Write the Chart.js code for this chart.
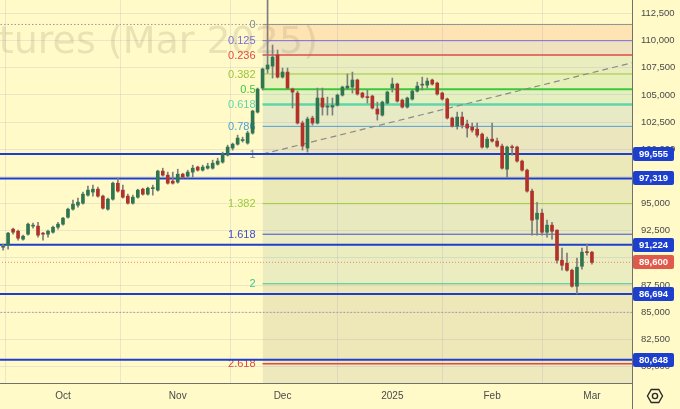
<!DOCTYPE html>
<html>
<head>
<meta charset="utf-8">
<title>Bitcoin CME Futures (Mar 2025)</title>
<script src="https://cdn.jsdelivr.net/npm/chart.js@4.4.1/dist/chart.umd.min.js"></script>
<style>
  html, body { margin: 0; padding: 0; background: #fffac8; }
  #chart { display: block; }
</style>
</head>
<body>
<canvas id="chart" width="680" height="409"></canvas>
<script>
// daily bars, mid Sep 2024 .. 3 Mar 2025 (bar index = position in the arrays)
const openPx = [
  90990, 91180, 92650, 92460, 91730, 92190, 92930, 92930, 92280, 92190,
  92370, 92830, 93110, 93750, 94490, 94860, 95040, 95780, 96060, 96330,
  95690, 94490, 95410, 96880, 96240, 95690, 95040, 95590, 96330, 95870,
  96380, 96240, 97990, 97620, 97070, 96980, 97710, 97530, 97900, 98360,
  98080, 98260, 98260, 98630, 98820, 99460, 100110, 100470, 100800, 100570,
  101490, 103420, 105630, 107380, 107650, 108670, 106640, 107100, 105540, 105170,
  102410, 100110, 102870, 102410, 104710, 103880, 103880, 104060, 104980, 105630,
  105720, 106370, 105170, 104800, 104890, 103700, 103140, 104250, 105630, 106000,
  104520, 103880, 104620, 105350, 105900, 105900, 106370, 106090, 105170, 104620,
  102870, 102130, 102960, 102320, 102040, 101850, 101390, 100200, 100930, 100750,
  100290, 98170, 100200, 100200, 98910, 98080, 96150, 93570, 94120, 92370,
  93020, 92560, 89790, 89520, 88870, 87400, 89240, 90530, 90530
];
const highPx = [
  91270, 92370, 92740, 92560, 92100, 93200, 93200, 93290, 92370, 92560,
  92930, 93290, 93750, 94580, 95320, 95500, 96060, 96610, 96700, 96520,
  95780, 95500, 96980, 97340, 96700, 95870, 95780, 96330, 96420, 96520,
  96700, 98080, 98260, 97900, 97900, 98170, 97800, 98080, 98540, 98450,
  98540, 98720, 99000, 99180, 99740, 100380, 100570, 101300, 101120, 101670,
  103600, 105630, 107470, 114000, 109590, 109130, 107470, 107470, 105630, 105350,
  102590, 102960, 103050, 105630, 105630, 104800, 104710, 105080, 105810, 106920,
  107100, 106460, 105260, 105450, 104980, 104340, 104430, 105350, 106550, 106090,
  104620, 104800, 105450, 106180, 106640, 106550, 106460, 106180, 105260, 104710,
  102960, 103420, 103420, 102680, 102410, 102410, 101490, 101120, 102410, 101030,
  100470, 100290, 100380, 100290, 99000, 98170, 96330, 95130, 94490, 93480,
  93290, 92600, 90900, 90440, 88970, 89980, 90900, 91270, 90620
];
const lowPx = [
  90720, 90810, 92190, 91640, 91640, 92100, 92740, 91910, 91640, 91910,
  92280, 92650, 93020, 93660, 94400, 94670, 94950, 95690, 95690, 95590,
  94490, 94400, 95320, 96060, 95500, 94950, 94950, 95500, 95780, 95780,
  95780, 96150, 97530, 96790, 96790, 96880, 97340, 97340, 97440, 97990,
  97990, 98170, 98170, 98540, 98720, 99370, 99920, 100380, 100660, 100470,
  101390, 103330, 105450, 107010, 106550, 106550, 106550, 105540, 103790, 102320,
  99920, 99740, 102220, 102320, 103140, 103140, 103140, 103970, 104890, 105540,
  105170, 104980, 104710, 104250, 103700, 102680, 103050, 104160, 105260, 104340,
  103790, 103790, 104520, 105260, 105450, 105630, 105900, 104980, 104520, 102780,
  102040, 101850, 101950, 101120, 101580, 101120, 100110, 100110, 100660, 100200,
  98170, 97440, 99460, 98820, 97990, 96060, 92100, 92100, 92100, 91910,
  91730, 89520, 88870, 88780, 87310, 86694, 88970, 90260, 89430
];
const closePx = [
  91080, 92280, 92370, 91820, 92000, 93110, 92970, 92100, 92190, 92460,
  92830, 93110, 93660, 94490, 94950, 95130, 95870, 96240, 96330, 95690,
  94580, 95410, 96880, 96150, 95590, 95040, 95590, 96240, 95870, 96420,
  96420, 97990, 97620, 96880, 96880, 97710, 97440, 97900, 98260, 98080,
  98360, 98450, 98720, 98910, 99550, 100200, 100470, 101030, 100840, 101490,
  103510, 105540, 107380, 107750, 108480, 106640, 107100, 105630, 105260, 102410,
  100290, 102780, 102410, 104710, 103880, 103930, 104020, 104980, 105720, 105810,
  106370, 105080, 104800, 104750, 103790, 103240, 104340, 105260, 106000, 104430,
  103880, 104710, 105350, 105810, 105950, 106270, 106000, 105080, 104620, 102870,
  102130, 102960, 102220, 101950, 101760, 101300, 100200, 100930, 100750, 100290,
  98260, 100200, 100150, 98910, 98080, 96150, 93480, 94120, 92370, 93020,
  92460, 89790, 89330, 88870, 87400, 89150, 90530, 90490, 89600
];

const monthIdx = [12, 35, 56, 78, 98, 118];
const monthNames = ['Oct', 'Nov', 'Dec', '2025', 'Feb', 'Mar'];
const yTicks = [80000, 82500, 85000, 87500, 90000, 92500, 95000, 97500,
                100000, 102500, 105000, 107500, 110000, 112500];

const priceLevels = [99555, 97319, 91224, 86694, 80648];
const dottedLevels = [111480, 85000];

// fib retracement drawn from the Dec swing
const fibHigh = 111480;
const fibLow = 99555;
const fibStart = 52;
const fibRatios = [0, 0.125, 0.236, 0.382, 0.5, 0.618, 0.786, 1, 1.382, 1.618, 2, 2.618];
const trendIdx = [52, 126];
const trendPx = [99555, 107950];

const watermark = 'Bitcoin CME Futures (Mar 2025)';

// ---- look ----
const X_MIN = -0.62, X_MAX = 126.03;
const Y_MIN = 78500, Y_MAX = 113730;
const BG = '#fffac8';
const GRID = 'rgba(160,160,195,0.22)';
const UP = '#2f7550', DOWN = '#b0322a', WICK = '#7d7d7d';
const BLUE = '#1d3fce';
const fibColors = ['#8c8c8c', '#7b6fd6', '#e04a4a', '#9cc43c', '#3cc83c', '#5fd6a8',
                   '#4aa0d8', '#8c8c8c', '#9ccc3c', '#3f4fd0', '#3cc890', '#e04848'];
const fibWidths = [1, 1, 1.5, 1, 2, 2.5, 1, 1, 1, 1, 1, 1.5];
const bandColors = [
  'rgba(245,150,100,0.22)', 'rgba(150,110,140,0.16)', 'rgba(130,175,150,0.17)',
  'rgba(110,190,110,0.16)', 'rgba(90,190,150,0.16)', 'rgba(100,150,190,0.15)',
  'rgba(130,130,140,0.16)', 'rgba(140,150,110,0.17)', 'rgba(120,150,150,0.16)',
  'rgba(120,160,140,0.15)', 'rgba(150,140,110,0.16)', 'rgba(140,140,120,0.15)'
];
const FONT = '"Liberation Sans", Arial, sans-serif';

Chart.defaults.font.family = FONT;

const idx = closePx.map((_, i) => i);
const isUp = i => closePx[i] >= openPx[i];
const fibLevel = r => fibHigh - r * (fibHigh - fibLow);

function hline(value, from, to, style) {
  return Object.assign({
    type: 'line',
    data: [{ x: from, y: value }, { x: to, y: value }],
    pointRadius: 0,
    borderWidth: 1,
    fill: false,
    order: 4
  }, style);
}

const fibSets = fibRatios.map((r, i) => hline(fibLevel(r), fibStart, X_MAX + 3, {
  borderColor: fibColors[i],
  borderWidth: fibWidths[i],
  fill: i === 0 ? false : '-1',
  backgroundColor: i === 0 ? 'transparent' : bandColors[i - 1],
  order: 6
}));
// shade under the last level down to the axis
fibSets.push(hline(Y_MIN, fibStart, X_MAX + 3, {
  borderWidth: 0, borderColor: 'transparent', fill: '-1',
  backgroundColor: bandColors[bandColors.length - 1], order: 6
}));

const datasets = [
  {
    type: 'bar',
    data: idx.map(i => ({ x: i, y: [Math.min(openPx[i], closePx[i]), Math.max(openPx[i], closePx[i])] })),
    backgroundColor: c => isUp(c.dataIndex) ? UP : DOWN,
    barThickness: 3,
    minBarLength: 1,
    grouped: false,
    order: 1
  },
  {
    type: 'bar',
    data: idx.map(i => ({ x: i, y: [lowPx[i], highPx[i]] })),
    backgroundColor: WICK,
    barThickness: 1,
    grouped: false,
    order: 2
  },
  ...priceLevels.map(v => hline(v, X_MIN - 2, X_MAX + 3, { borderColor: BLUE, borderWidth: 2, order: 3 })),
  hline(closePx[closePx.length - 1], X_MIN - 2, X_MAX + 3, { borderColor: '#ec8470', borderDash: [1, 2], order: 3 }),
  ...dottedLevels.map(v => hline(v, X_MIN - 2, X_MAX + 3, { borderColor: '#9a9a9a', borderDash: [1.5, 2], order: 5 })),
  {
    type: 'line',
    data: trendIdx.map((v, i) => ({ x: v, y: trendPx[i] })),
    borderColor: '#8a8a8a',
    borderWidth: 1.2,
    borderDash: [6, 4],
    pointRadius: 0,
    fill: false,
    order: 4
  },
  ...fibSets
];

const overlay = {
  id: 'overlay',
  beforeDraw(chart) {
    const { ctx, width, height } = chart;
    ctx.save();
    ctx.fillStyle = BG;
    ctx.fillRect(0, 0, width, height);
    ctx.font = '38px "DejaVu Sans", sans-serif';
    ctx.fillStyle = 'rgba(110,105,80,0.16)';
    ctx.textAlign = 'right';
    ctx.textBaseline = 'alphabetic';
    ctx.fillText(watermark, 318, 53);
    ctx.restore();
  },
  beforeDatasetsDraw(chart) {
    // fib labels sit under the candles
    const { ctx, scales: { x, y } } = chart;
    ctx.save();
    ctx.font = '11px ' + FONT;
    ctx.textAlign = 'right';
    ctx.textBaseline = 'middle';
    fibRatios.forEach((r, i) => {
      ctx.fillStyle = fibColors[i];
      ctx.fillText(String(r), x.getPixelForValue(fibStart) - 7, y.getPixelForValue(fibLevel(r)) + 0.5);
    });
    ctx.restore();
  },
  afterDraw(chart) {
    const { ctx, scales: { y }, chartArea: a, height } = chart;
    ctx.save();
    // axis lines
    ctx.strokeStyle = '#707070';
    ctx.lineWidth = 1;
    ctx.beginPath();
    ctx.moveTo(a.left, a.bottom + 0.5);
    ctx.lineTo(a.right, a.bottom + 0.5);
    ctx.moveTo(a.right + 0.5, 0);
    ctx.lineTo(a.right + 0.5, height);
    ctx.stroke();

    // price tags on the right scale
    const tag = (val, color) => {
      const py = Math.round(y.getPixelForValue(val));
      ctx.fillStyle = color;
      ctx.beginPath();
      ctx.roundRect(a.right + 1, py - 7, 41, 14, 2);
      ctx.fill();
      ctx.fillStyle = '#ffffff';
      ctx.font = 'bold 9.5px ' + FONT;
      ctx.textAlign = 'center';
      ctx.textBaseline = 'middle';
      ctx.fillText(val.toLocaleString('en-US'), a.right + 21.5, py + 0.5);
    };
    priceLevels.forEach(v => tag(v, BLUE));
    tag(closePx[closePx.length - 1], '#e05a4c');

    // settings icon
    const cx = 655, cy = 396, r = 7.5;
    ctx.strokeStyle = '#2b2b2b';
    ctx.lineWidth = 1.4;
    ctx.beginPath();
    for (let k = 0; k < 6; k++) {
      const ang = Math.PI / 3 * k;
      const px = cx + r * Math.cos(ang), py = cy + r * Math.sin(ang);
      k ? ctx.lineTo(px, py) : ctx.moveTo(px, py);
    }
    ctx.closePath();
    ctx.stroke();
    ctx.beginPath();
    ctx.arc(cx, cy, 2.6, 0, Math.PI * 2);
    ctx.stroke();
    ctx.restore();
  }
};

new Chart(document.getElementById('chart'), {
  type: 'bar',
  data: { datasets },
  options: {
    responsive: false,
    animation: false,
    devicePixelRatio: 1,
    layout: { padding: 0 },
    plugins: {
      legend: { display: false },
      tooltip: { enabled: false },
      filler: { drawTime: 'beforeDatasetsDraw' }
    },
    scales: {
      x: {
        type: 'linear',
        min: X_MIN,
        max: X_MAX,
        offset: false,
        grid: { color: GRID, drawTicks: false },
        border: { display: false },
        ticks: {
          padding: 7,
          color: '#4a4a4a',
          font: { size: 10 },
          maxRotation: 0,
          autoSkip: false,
          callback: (v, i) => monthNames[i]
        },
        afterBuildTicks: s => { s.ticks = monthIdx.map(v => ({ value: v })); },
        afterFit: s => { s.height = 26; s.paddingLeft = 0; s.paddingRight = 0; }
      },
      y: {
        position: 'right',
        min: Y_MIN,
        max: Y_MAX,
        grid: { color: GRID, drawTicks: false },
        border: { display: false },
        ticks: {
          padding: 9,
          color: '#4a4a4a',
          font: { size: 9.5 },
          callback: v => v.toLocaleString('en-US')
        },
        afterBuildTicks: s => { s.ticks = yTicks.map(v => ({ value: v })); },
        afterFit: s => { s.width = 48; s.paddingTop = 0; s.paddingBottom = 0; }
      }
    }
  },
  plugins: [overlay]
});
</script>
</body>
</html>
